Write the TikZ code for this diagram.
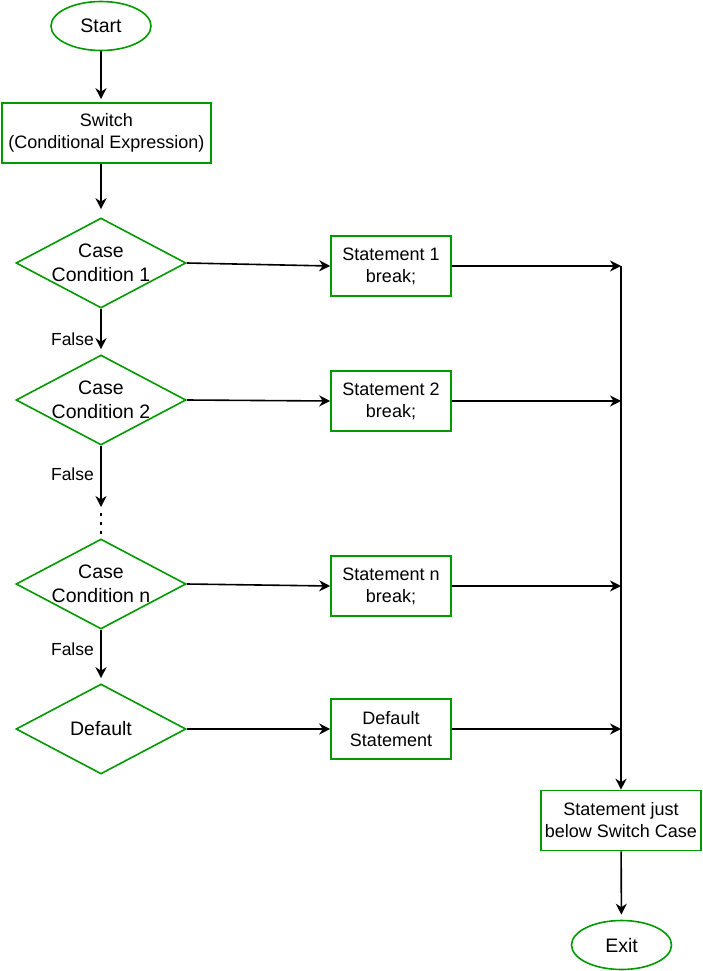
\documentclass[tikz,border=0pt]{standalone}
\usepackage{fontspec}
\setmainfont{Liberation Sans}
\usepackage{xcolor}
\usepackage{tikz}
\usetikzlibrary{shapes.geometric,arrows.meta}
\definecolor{boxgreen}{RGB}{0,153,0}

\begin{document}
\begin{tikzpicture}[x=1pt,y=-1pt,line width=1.6pt,
  box/.style={draw=boxgreen, rectangle, minimum width=120pt, minimum height=60pt, align=center, font=\fontsize{18}{22}\selectfont},
  cond/.style={draw=boxgreen, diamond, minimum width=170pt, minimum height=90pt, aspect=1.9, inner sep=-14pt, align=center, font=\fontsize{19.5}{24}\selectfont},
  term/.style={draw=boxgreen, ellipse, minimum width=100pt, minimum height=49pt, inner sep=0pt, font=\fontsize{19.5}{24}\selectfont},
  arr/.style={-{Stealth[length=11pt,width=11pt,inset=3.5pt]}, black},
  lbl/.style={left=3pt, font=\fontsize{17.5}{21}\selectfont}]
\useasboundingbox (0,0) rectangle (702,971);

\node[term] (start) at (101,26) {Start};
\node[box, minimum width=209pt] (sw) at (106.5,133) {Switch\\(Conditional Expression)};
\node[cond] (c1) at (101,263) {Case\\Condition 1};
\node[cond] (c2) at (101,400) {Case\\Condition 2};
\node[cond] (cn) at (101,584) {Case\\Condition n};
\node[cond] (dft) at (101,729) {Default};
\node[box] (s1) at (391,266) {Statement 1\\break;};
\node[box] (s2) at (391,401) {Statement 2\\break;};
\node[box] (sn) at (391,586) {Statement n\\break;};
\node[box] (ds) at (391,729) {Default\\Statement};
\node[box, minimum width=160pt] (next) at (621,820.5) {Statement just\\below Switch Case};
\node[term] (exit) at (621.5,945) {Exit};
\coordinate (gap) at (101,510);

% down the left column
\draw[arr, shorten >=3pt] (start) -- (start |- sw.north);
\draw[arr, shorten >=8pt] (sw.south -| c1) -- (c1);
\draw[arr, shorten >=5pt] (c1) -- (c2) node[lbl, pos=0.66] {False};
\draw[arr, shorten >=3pt] (c2) -- (gap) node[lbl, pos=0.45] {False};
\draw[dash pattern=on 3pt off 6pt, line width=2.5pt, shorten <=3pt] (gap) -- (cn);
\draw[arr, shorten >=5pt] (cn) -- (dft) node[lbl, pos=0.36] {False};

% cases to statements
\draw[arr] (c1.east) -- (s1.west);
\draw[arr] (c2.east) -- (s2.west);
\draw[arr] (cn.east) -- (sn.west);
\draw[arr] (dft.east) -- (ds.west);

% statements to the right column
\draw[arr] (s1.east) -- (s1.east -| next);
\draw[arr] (s2.east) -- (s2.east -| next);
\draw[arr] (sn.east) -- (sn.east -| next);
\draw[arr] (ds.east) -- (ds.east -| next);
\draw[arr] (s1.east -| next) -- (next.north);
\draw[arr, shorten >=5pt] (next) -- (exit);
\end{tikzpicture}
\end{document}
